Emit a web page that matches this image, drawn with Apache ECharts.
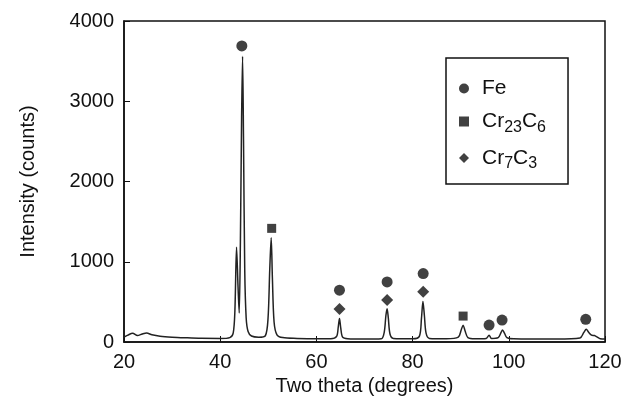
<!DOCTYPE html>
<html>
<head>
<meta charset="utf-8">
<script src="https://cdn.jsdelivr.net/npm/echarts@6/dist/echarts.min.js"></script>
<style>
  html, body { margin: 0; padding: 0; background: #fff; }
  #chart { width: 637px; height: 412px; }
</style>
</head>
<body>
<div id="chart"></div>
<script>
// XRD pattern: [two theta, counts]
var pattern = [
  [20, 60], [20.8, 85], [21.8, 110], [22.8, 80], [23.8, 100], [24.7, 112], [25.8, 90],
  [27.5, 72], [30, 60], [33, 52], [36, 46], [40, 44], [42, 55], [42.7, 110],
  [43.05, 380], [43.4, 1180], [43.7, 700], [43.95, 360], [44.2, 1250], [44.45, 2800],
  [44.65, 3560], [44.85, 2500], [45.1, 900], [45.4, 300], [45.8, 130], [46.5, 75],
  [48, 60], [49.4, 80], [49.95, 300], [50.3, 900], [50.6, 1300], [50.85, 800],
  [51.2, 250], [51.8, 90], [53, 55], [56, 45], [60, 40], [63, 40], [64.2, 70],
  [64.55, 190], [64.8, 292], [65.05, 180], [65.45, 60], [66.5, 40], [70, 36],
  [73.5, 40], [74.1, 120], [74.45, 330], [74.7, 415], [74.95, 300], [75.3, 100],
  [76, 45], [80, 40], [81.4, 70], [81.85, 300], [82.15, 505], [82.45, 330],
  [82.8, 110], [83.5, 45], [87, 40], [89.5, 60], [90.1, 150], [90.5, 210],
  [90.9, 140], [91.5, 55], [93, 40], [95.3, 45], [95.9, 85], [96.4, 45],
  [97.8, 55], [98.4, 120], [98.7, 150], [99.1, 110], [99.6, 55], [101, 40],
  [110, 36], [114.8, 50], [115.6, 120], [116.1, 160], [116.6, 120], [117.2, 85],
  [117.8, 80], [118.4, 60], [119, 40], [120, 36]
];

// phase marks above the peaks
var fePeaks = [[44.5, 3690], [64.8, 646], [74.7, 749], [82.2, 853], [95.9, 211], [98.6, 273], [116, 282]];
var cr23c6Peaks = [[50.7, 1416], [90.5, 323]];
var cr7c3Peaks = [[64.8, 410], [74.7, 522], [82.2, 625]];

var xTicks = [20, 40, 60, 80, 100, 120];
var yTicks = [0, 1000, 2000, 3000, 4000];

var myChart = echarts.init(document.getElementById('chart'));
var font = 'Liberation Sans, Arial, sans-serif';
// subscripts: small text pushed to the bottom of a taller line
var subRich = {
  g: { width: 8, lineHeight: 28 },
  n: { fontSize: 21, fontFamily: font, color: '#111', lineHeight: 28, verticalAlign: 'middle' },
  s: { fontSize: 16, fontFamily: font, color: '#111', lineHeight: 16, verticalAlign: 'bottom' }
};

var option = {
  backgroundColor: '#fff',
  animation: false,
  grid: {
    left: 124, right: 32, top: 21, bottom: 70,
    show: true, borderColor: '#111', borderWidth: 1.5
  },
  legend: {
    orient: 'vertical',
    left: 446, top: 58,
    padding: [20, 22, 12, 13],
    itemGap: 12,
    itemWidth: 10, itemHeight: 10,
    borderColor: '#111', borderWidth: 1.5,
    textStyle: { rich: subRich },
    formatter: function (name) {
      if (name === 'Cr23C6') return '{g|}{n|Cr}{s|23}{n|C}{s|6}';
      if (name === 'Cr7C3') return '{g|}{n|Cr}{s|7}{n|C}{s|3}';
      return '{g|}{n|' + name + '}';
    },
    data: [
      { name: 'Fe', icon: 'circle' },
      { name: 'Cr23C6', icon: 'rect' },
      { name: 'Cr7C3', icon: 'diamond' }
    ]
  },
  xAxis: {
    type: 'value',
    min: xTicks[0], max: xTicks[xTicks.length - 1], interval: 20,
    name: 'Two theta (degrees)',
    nameLocation: 'middle', nameGap: 34,
    nameTextStyle: { fontSize: 20, fontFamily: font, color: '#111' },
    axisLine: { lineStyle: { color: '#111', width: 1.5 } },
    axisTick: { inside: true, length: 6, lineStyle: { color: '#111' } },
    axisLabel: { fontSize: 20, fontFamily: font, color: '#111', margin: 10 },
    splitLine: { show: false }
  },
  yAxis: {
    type: 'value',
    min: yTicks[0], max: yTicks[yTicks.length - 1], interval: 1000,
    name: 'Intensity (counts)',
    nameLocation: 'middle', nameGap: 86,
    nameTextStyle: { fontSize: 20, fontFamily: font, color: '#111' },
    axisLine: { show: true, lineStyle: { color: '#111', width: 1.5 } },
    axisTick: { show: true, inside: true, length: 6, lineStyle: { color: '#111' } },
    axisLabel: {
      fontSize: 20, fontFamily: font, color: '#111', margin: 10,
      formatter: function (v) { return String(v); }
    },
    splitLine: { show: false }
  },
  series: [
    {
      name: 'pattern',
      type: 'line',
      data: pattern,
      showSymbol: false,
      smooth: 0.3,
      lineStyle: { color: '#222', width: 1.5 },
      z: 2
    },
    {
      name: 'Fe', type: 'scatter', data: fePeaks,
      symbol: 'circle', symbolSize: 11,
      itemStyle: { color: '#111' }, z: 3
    },
    {
      name: 'Cr23C6', type: 'scatter', data: cr23c6Peaks,
      symbol: 'rect', symbolSize: 9,
      itemStyle: { color: '#111' }, z: 3
    },
    {
      name: 'Cr7C3', type: 'scatter', data: cr7c3Peaks,
      symbol: 'diamond', symbolSize: 12,
      itemStyle: { color: '#111' }, z: 3
    }
  ]
};

myChart.setOption(option);
window.addEventListener('resize', function () {
  myChart.resize();
});
</script>
</body>
</html>
